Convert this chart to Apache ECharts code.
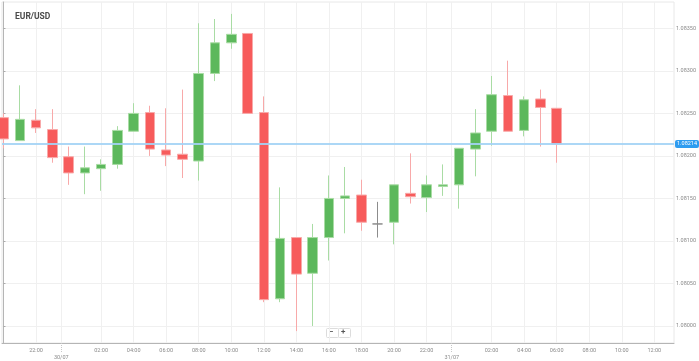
<!DOCTYPE html>
<html>
<head>
<meta charset="utf-8">
<script src="https://cdn.jsdelivr.net/npm/echarts@6/dist/echarts.min.js"></script>
<style>
html,body{margin:0;padding:0;background:#fff;}
#c{width:699px;height:361px;}
</style>
</head>
<body>
<div id="c"></div>
<script>
// hours since 29/07 20:00
var hours = [0,1,2,3,4,5,6,7,8,9,10,11,12,13,14,15,16,17,18,19,20,21,22,23,24,25,26,27,28,29,30,31,32,33,34];
var opens  = [1.08245,1.08218,1.08242,1.08231,1.08199,1.08180,1.08185,1.08190,1.08229,1.08251,1.08207,1.08202,1.08194,1.08297,1.08333,1.08344,1.08251,1.08032,1.08104,1.08062,1.08104,1.08150,1.08154,1.08120,1.08122,1.08156,1.08151,1.08164,1.08166,1.08208,1.08229,1.08271,1.08230,1.08267,1.08256];
var closes = [1.08220,1.08243,1.08233,1.08198,1.08180,1.08186,1.08190,1.08230,1.08250,1.08208,1.08201,1.08196,1.08297,1.08333,1.08343,1.08250,1.08031,1.08103,1.08061,1.08104,1.08150,1.08153,1.08122,1.08120,1.08166,1.08152,1.08166,1.08166,1.08209,1.08227,1.08272,1.08229,1.08266,1.08257,1.08214];
var lows   = [1.08209,1.08218,1.08227,1.08192,1.08166,1.08155,1.08159,1.08185,1.08229,1.08200,1.08188,1.08174,1.08171,1.08288,1.08326,1.08250,1.08028,1.08028,1.07994,1.08000,1.08077,1.08109,1.08112,1.08104,1.08096,1.08144,1.08134,1.08153,1.08138,1.08176,1.08212,1.08229,1.08223,1.08211,1.08192];
var highs  = [1.08250,1.08283,1.08255,1.08255,1.08211,1.08211,1.08196,1.08235,1.08262,1.08259,1.08256,1.08278,1.08356,1.08361,1.08367,1.08344,1.08270,1.08163,1.08104,1.08120,1.08177,1.08187,1.08172,1.08146,1.08166,1.08203,1.08177,1.08190,1.08209,1.08255,1.08294,1.08312,1.08270,1.08278,1.08256];
var lastPrice = 1.08214;

var hourTickPos   = [2,6,8,10,12,14,16,18,20,22,24,26,30,32,34,36,38,40];
var hourTickLabel = ['22:00','02:00','04:00','06:00','08:00','10:00','12:00','14:00','16:00','18:00','20:00','22:00','02:00','04:00','06:00','08:00','10:00','12:00'];
var dayTickPos   = [3.55, 27.55];
var dayTickLabel = ['30/07','31/07'];
var priceTicks = [1.08000,1.08050,1.08100,1.08150,1.08200,1.08250,1.08300,1.08350];

var X_MIN = -0.092, X_MAX = 41.21;
var candleData = hours.map(function(h,i){ return [h, opens[i], closes[i], lows[i], highs[i]]; });
var labelMap = {};
hourTickPos.forEach(function(p,i){ labelMap[p] = hourTickLabel[i]; });
dayTickPos.forEach(function(p,i){ labelMap[p] = '\n' + dayTickLabel[i]; });

var chart = echarts.init(document.getElementById('c'), null, {renderer:'canvas'});
var FONT = 'Roboto, "Open Sans", sans-serif';
chart.setOption({
  animation: false,
  backgroundColor: '#fff',
  title: {
    text: 'EUR/USD', left: 10, top: 7,
    textStyle: {fontSize: 8.5, fontWeight: 'bold', color: '#4a4a4a', fontFamily: FONT}
  },
  grid: {left: 2, right: 25, top: 2, bottom: 18, show: true, borderColor: '#e8e8e8', borderWidth: 1},
  xAxis: [{
    type: 'value', min: X_MIN, max: X_MAX,
    axisLine: {show: true, lineStyle: {color: '#b5b5b5', width: 1}},
    axisTick: {show: false, customValues: hourTickPos.concat(dayTickPos)},
    axisLabel: {
      customValues: hourTickPos.concat(dayTickPos),
      formatter: function(v){ return labelMap[v] !== undefined ? labelMap[v] : ''; },
      fontSize: 5.5, color: '#8a8a8a', margin: 4, lineHeight: 7, fontFamily: FONT
    },
    splitLine: {show: true, lineStyle: {color: '#f0f0f0', width: 1}}
  }, {
    type: 'value', min: X_MIN, max: X_MAX, position: 'bottom',
    axisLine: {show: false},
    axisTick: {show: true, inside: false, length: 9, customValues: dayTickPos,
               lineStyle: {color: '#c8c8c8', type: [1,1]}},
    axisLabel: {show: false},
    splitLine: {show: false}
  }],
  yAxis: {
    type: 'value', position: 'right', min: 1.07980, max: 1.08381, scale: true,
    axisLine: {show: true, lineStyle: {color: '#b5b5b5', width: 1}},
    axisTick: {show: true, length: 2, customValues: priceTicks, lineStyle: {color: '#aaa'}},
    axisLabel: {
      customValues: priceTicks,
      formatter: function(v){ return v.toFixed(5); },
      fontSize: 5.5, color: '#8a8a8a', margin: 2, fontFamily: FONT
    },
    splitLine: {show: true, lineStyle: {color: '#f0f0f0', width: 1}}
  },
  series: [{
    type: 'candlestick',
    xAxisIndex: 0,
    z: 2,
    data: candleData,
    encode: {x: 0, y: [1, 2, 3, 4]},
    barWidth: 10,
    itemStyle: {
      color: '#5cb85c', color0: '#f75b5b',
      borderColor: '#a9dca4', borderColor0: '#f8a9a9',
      borderColorDoji: '#8c8c8c',
      borderWidth: 1
    }
  }, {
    type: 'line',
    xAxisIndex: 0,
    data: [[X_MIN, lastPrice], [X_MAX, lastPrice]],
    symbol: 'none',
    z: 3,
    lineStyle: {color: '#a3d3f5', width: 2, opacity: 0.9},
    endLabel: {
      show: true, distance: 1,
      formatter: function(){ return lastPrice.toFixed(5); },
      color: '#fff', backgroundColor: '#2e9cf0', borderRadius: 2,
      padding: [1, 2, 1, 2], fontSize: 5.5, fontFamily: FONT
    }
  }],
  graphic: [
    {type: 'rect', left: 326, top: 328, shape: {width: 12, height: 9, r: 1},
     style: {fill: '#fff', stroke: '#dcdcdc', lineWidth: 1}},
    {type: 'rect', left: 338, top: 328, shape: {width: 12, height: 9, r: 1},
     style: {fill: '#fff', stroke: '#dcdcdc', lineWidth: 1}},
    {type: 'text', left: 329, top: 328, style: {text: '−', fontSize: 8, fontWeight: 'bold', fill: '#555', fontFamily: FONT}},
    {type: 'text', left: 341, top: 328, style: {text: '+', fontSize: 8, fontWeight: 'bold', fill: '#555', fontFamily: FONT}}
  ]
});
</script>
</body>
</html>
